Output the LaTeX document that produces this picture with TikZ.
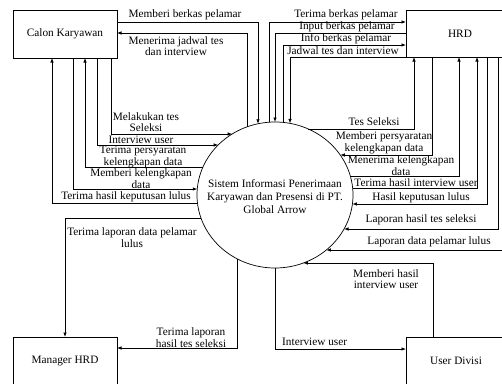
\documentclass[tikz,border=0pt]{standalone}
\usepackage{fontspec}
\setmainfont{Liberation Serif}
\usetikzlibrary{arrows.meta,calc,shapes.geometric}
\begin{document}
\begin{tikzpicture}[x=1pt,y=-1pt,
  ent/.style={draw, line width=0.7pt, minimum width=104pt, minimum height=48pt, inner sep=0pt, outer sep=0pt, font=\fontsize{11.3}{12}\selectfont},
  lbl/.style={font=\fontsize{11.3}{11.5}\selectfont, align=center, inner sep=0pt},
  arr/.style={-{Latex[length=4.5pt,width=3.5pt]}, line width=0.7pt},
  ln/.style={line width=0.7pt}]
\useasboundingbox (0,0) rectangle (502,383);
\clip (0,0) rectangle (502,383);

% entities
\node[ent] (calon) at (65,34) {Calon Karyawan};
\node[ent, minimum width=108pt, minimum height=47pt] (hrd) at (460,33.5) {HRD};
\node[ent] (mgr) at (65,361) {Manager HRD};
\node[ent, minimum width=100pt] (user) at (456,361) {User Divisi};

% process
\node[draw, ellipse, minimum width=156pt, minimum height=146pt, inner sep=0pt, outer sep=0pt, line width=0.7pt] (sys) at (275,195) {};
\node[font=\fontsize{11.3}{13}\selectfont, align=center, inner sep=0pt] (sysl) at (275,197) {Sistem Informasi Penerimaan\\Karyawan dan Presensi di PT.\\Global Arrow};

% points on the ellipse
% top
\path (sys) ++({-acos(-28/78)}:78 and 73) coordinate (pMJ);
\path (sys) ++({-acos(-17/78)}:78 and 73) coordinate (pMB);
\path (sys) ++({-acos(-6/78)}:78 and 73) coordinate (pTB);
\path (sys) ++(-90:78 and 73) coordinate (pIN);
\path (sys) ++({-acos(8/78)}:78 and 73) coordinate (pIF);
\path (sys) ++({-acos(15/78)}:78 and 73) coordinate (pJD);
% right
\path (sys) ++({asin(-66/73)}:78 and 73) coordinate (pTS);
\path (sys) ++({asin(-40/73)}:78 and 73) coordinate (pMP);
\path (sys) ++({asin(-19/73)}:78 and 73) coordinate (pMK);
\path (sys) ++({asin(-7/73)}:78 and 73) coordinate (pTH);
\path (sys) ++({asin(9/73)}:78 and 73) coordinate (pHK);
\path (sys) ++({asin(34/73)}:78 and 73) coordinate (pLH);
\path (sys) ++({asin(55/73)}:78 and 73) coordinate (pLD);
\path (sys) ++({asin(68/73)}:78 and 73) coordinate (pMH);
% left
\path (sys) ++({180-asin(-61/73)}:78 and 73) coordinate (pML);
\path (sys) ++({180-asin(-50/73)}:78 and 73) coordinate (pIU);
\path (sys) ++({180-asin(-28/73)}:78 and 73) coordinate (pTP);
\path (sys) ++({180-asin(-6/73)}:78 and 73) coordinate (pMKL);
\path (sys) ++({180-asin(8/73)}:78 and 73) coordinate (pTK);
\path (sys) ++({180-asin(23/73)}:78 and 73) coordinate (pTL);
% bottom
\path (sys) ++({acos(-38/78)}:78 and 73) coordinate (pBL);
\path (sys) ++(90:78 and 73) coordinate (pBU);

% Calon Karyawan <-> process (top)
\draw[arr] (calon.east |- 0,22) -| (pMB);
\draw[arr] (pMJ) |- (calon.east |- 0,33);
% process <-> HRD (top)
\draw[arr] (pTB) |- (hrd.west |- 0,22);
\draw[arr] (hrd.west |- 0,33) -| (pIN);
\draw[arr] (pIF) |- (hrd.west |- 0,45);
\draw[arr] (hrd.south west) -| (pJD);
% process <-> HRD (right)
\draw[arr] (pTS) -| (hrd.south -| 414,0);
\draw[arr] (hrd.south -| 432,0) |- (pMP);
\draw[arr] (pMK) -| (hrd.south -| 459,0);
\draw[arr] (pTH) -| (hrd.south -| 477,0);
\draw[arr] (hrd.south -| 487,0) |- (pHK);
\draw[arr] (hrd.south -| 498,0) |- (pLH);
\draw[arr] (hrd.south -| 509,0) |- (pLD);
% Calon Karyawan <-> process (left)
\draw[arr] (calon.south -| 111,0) |- (pML);
\draw[arr] (calon.south -| 97,0) |- (pIU);
\draw[arr] (pTP) -| (calon.south -| 85,0);
\draw[arr] (calon.south -| 73,0) |- (pMKL);
\draw[arr] (pTK) -| (calon.south -| 52,0);
% process -> Manager HRD
\draw[arr] (pTL) -| (mgr.north);
\draw[arr] (pBL) |- (mgr.east |- 0,348);
% process <-> User Divisi
\draw[arr] (pBU) |- (user.west |- 0,349);
\draw[arr] (user.north -| 433,0) |- (pMH);

% labels
\node[lbl] (l1) at (185,15) {Memberi berkas pelamar};
\node[lbl] (l2) at (176,46) {Menerima jadwal tes\\dan interview};
\node[lbl] (l3) at (346,15) {Terima berkas pelamar};
\node[lbl] (l4) at (347,27) {Input berkas pelamar};
\node[lbl] (l5) at (346,39) {Info berkas pelamar};
\node[lbl] (l6) at (343,51) {Jadwal tes dan interview};
\node[lbl] (l7) at (374,122) {Tes Seleksi};
\node[lbl] (l8) at (384,143) {Memberi persyaratan\\kelengkapan data};
\node[lbl] (l9) at (401,165.5) {Menerima kelengkapan\\data};
\node[lbl] (l10) at (416,182.5) {Terima hasil interview user};
\node[lbl] (l11) at (421,198) {Hasil keputusan lulus};
\node[lbl] (l12) at (421,220) {Laporan hasil tes seleksi};
\node[lbl] (l13) at (429,242) {Laporan data pelamar lulus};
\node[lbl] (l14) at (146,122) {Melakukan tes\\Seleksi};
\node[lbl] (l15) at (141,140) {Interview user};
\node[lbl] (l16) at (143,157) {Terima persyaratan\\kelengkapan data};
\node[lbl] (l17) at (141,178.5) {Memberi kelengkapan\\data};
\node[lbl] (l18) at (126,197) {Terima hasil keputusan lulus};
\node[lbl] (l19) at (132,237.5) {Terima laporan data pelamar\\lulus};
\node[lbl] (l20) at (191,337.5) {Terima laporan\\hasil tes seleksi};
\node[lbl, anchor=west] (l21) at (282,342) {Interview user};
\node[lbl] (l22) at (386,279) {Memberi hasil\\interview user};
\end{tikzpicture}
\end{document}
